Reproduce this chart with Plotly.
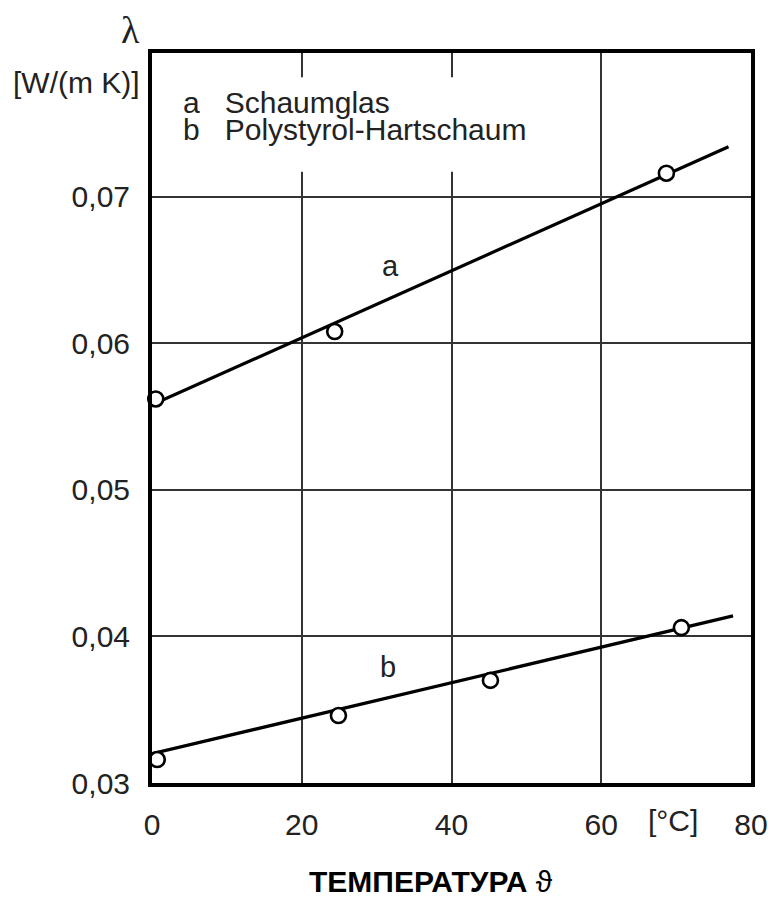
import plotly.graph_objects as go

# Data
temp_a = [0.5, 24.4, 68.7]
lam_a = [0.0562, 0.0608, 0.0716]
temp_b = [0.7, 24.9, 45.2, 70.7]
lam_b = [0.0316, 0.0346, 0.0370, 0.0406]

fit_a_x = [0, 77.0]
fit_a_y = [0.0558, 0.0734]
fit_b_x = [0, 77.6]
fit_b_y = [0.0320, 0.0414]

x_tickvals = [0, 20, 40, 60, 80]
x_ticktext = ["0", "20", "40", "60", "80"]
y_tickvals = [0.03, 0.04, 0.05, 0.06, 0.07]
y_ticktext = ["0,03", "0,04", "0,05", "0,06", "0,07"]

legend_keys = ["a", "b"]
legend_names = ["Schaumglas", "Polystyrol-Hartschaum"]

FONT = "Liberation Sans, Arial, sans-serif"
TXT = "#222222"

fig = go.Figure()

for fx, fy in [(fit_a_x, fit_a_y), (fit_b_x, fit_b_y)]:
    fig.add_trace(go.Scatter(x=fx, y=fy, mode="lines",
                             line=dict(color="black", width=3.2),
                             hoverinfo="skip", showlegend=False))

for tx, ly in [(temp_a, lam_a), (temp_b, lam_b)]:
    fig.add_trace(go.Scatter(x=tx, y=ly, mode="markers",
                             marker=dict(symbol="circle", size=15, color="white",
                                         line=dict(color="black", width=2.6)),
                             showlegend=False, cliponaxis=False))

# white box behind the legend text (interrupts the gridline)
fig.add_shape(type="rect", xref="x", yref="y", x0=1.7, x1=54.6, y0=0.0717, y1=0.07815,
              fillcolor="white", line=dict(width=0), layer="between")

legend_y = [0.07642, 0.07457]
for k, name, yy in zip(legend_keys, legend_names, legend_y):
    fig.add_annotation(x=4.0, y=yy, xref="x", yref="y",
                       text=k + "&nbsp;&nbsp;&nbsp;" + name, showarrow=False,
                       borderpad=0,
                       xanchor="left", yanchor="middle", font=dict(family=FONT, size=30, color=TXT))

# curve labels
fig.add_annotation(x=31.9, y=0.0653, xref="x", yref="y", text="a", showarrow=False,
                   font=dict(family=FONT, size=29, color=TXT))
fig.add_annotation(x=31.5, y=0.0379, xref="x", yref="y", text="b", showarrow=False,
                   font=dict(family=FONT, size=29, color=TXT))

# axis labels
fig.add_annotation(x=-0.0367, y=1.0315, xref="paper", yref="paper", text="λ", showarrow=False,
                   xanchor="center", yanchor="middle",
                   font=dict(family="Liberation Serif, serif", size=38, color=TXT))
fig.add_annotation(x=-0.0167, y=0.960, xref="paper", yref="paper", text="[W/(m K)]", showarrow=False,
                   xanchor="right", yanchor="middle", font=dict(family=FONT, size=30, color=TXT))
fig.add_annotation(x=69.6, y=-0.0507, xref="x", yref="paper", text="[°C]", showarrow=False,
                   xanchor="center", yanchor="middle", font=dict(family=FONT, size=30, color=TXT))
fig.add_annotation(x=0.466, y=-0.1356, xref="paper", yref="paper",
                   text="<b>ТЕМПЕРАТУРА</b> ϑ", showarrow=False,
                   xanchor="center", yanchor="middle", font=dict(family=FONT, size=30, color="black"))

fig.update_xaxes(range=[0, 80], tickvals=x_tickvals, ticktext=x_ticktext,
                 showgrid=True, gridcolor="#333333", gridwidth=2,
                 showline=True, linecolor="black", linewidth=4, mirror=True,
                 ticks="", ticklabelstandoff=12, zeroline=False, automargin=False,
                 tickfont=dict(family=FONT, size=30, color=TXT))
fig.update_yaxes(range=[0.03, 0.0798], tickvals=y_tickvals, ticktext=y_ticktext,
                 showgrid=True, gridcolor="#333333", gridwidth=2,
                 showline=True, linecolor="black", linewidth=4, mirror=True,
                 ticks="", ticklabelstandoff=12, zeroline=False, automargin=False,
                 tickfont=dict(family=FONT, size=30, color=TXT))

fig.update_layout(width=768, height=898, autosize=False,
                  margin=dict(l=152, r=17, t=53, b=115, autoexpand=False),
                  paper_bgcolor="white", plot_bgcolor="white",
                  showlegend=False)

fig.write_html("out.html", config={"displayModeBar": False})

# remove the default page margin so the figure fills the 768x898 window exactly
with open("out.html", encoding="utf-8") as f:
    html = f.read()
html = html.replace("<head>", "<head><style>html,body{margin:0;padding:0;overflow:hidden;}</style>", 1)
with open("out.html", "w", encoding="utf-8") as f:
    f.write(html)
